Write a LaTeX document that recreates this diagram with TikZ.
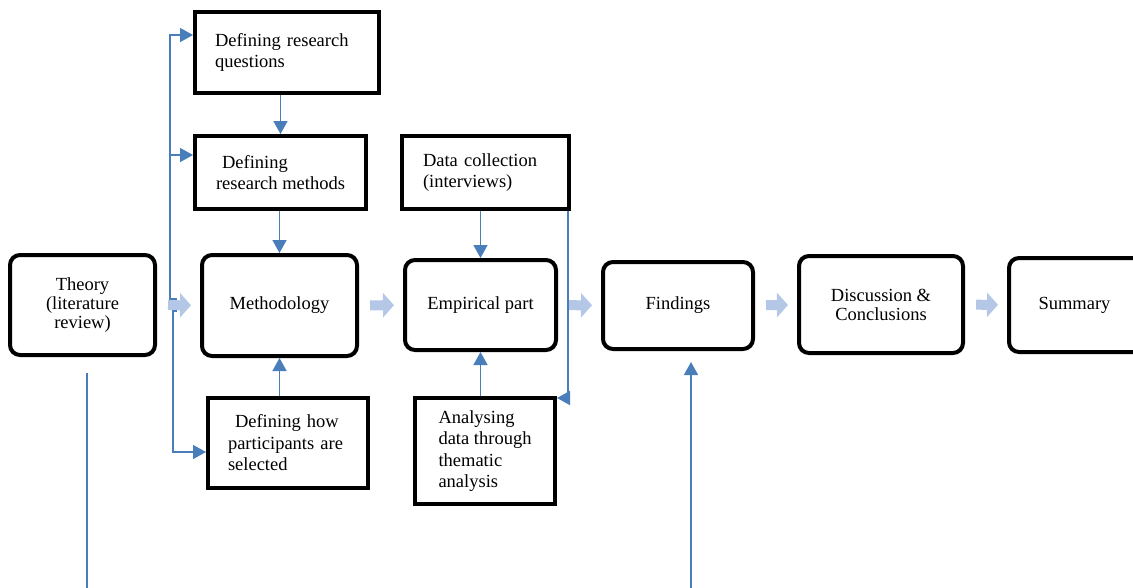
\documentclass[tikz,border=0pt]{standalone}
\usepackage{fontspec}
\setmainfont{Liberation Serif}
\usepackage{tikz}
\usetikzlibrary{arrows.meta,positioning,calc}
\usepackage{xcolor}
\definecolor{rqblue}{RGB}{74,126,187}
\definecolor{rqpale}{RGB}{180,199,231}
\tikzstyle{stage} = [rectangle, rounded corners=10pt, draw=black, line width=4pt, align=center, inner sep=0pt, font=\rmfamily\fontsize{18.5}{19}\selectfont]
\tikzstyle{task} = [rectangle, draw=black, line width=4pt, align=left, inner sep=0pt, font=\rmfamily\fontsize{18.5}{21.5}\selectfont]
\tikzstyle{fatarrow} = [line width=10pt, color=rqpale, -{Triangle[length=11pt,width=24pt]}, shorten <=11pt, shorten >=9pt]
\tikzstyle{link} = [line width=1.5pt, color=rqblue, -{Triangle[length=13pt,width=14pt]}]

\begin{document}
\begin{tikzpicture}[x=1pt, y=-1pt]
\useasboundingbox (0,0) rectangle (1133,587);
\clip (0,0) rectangle (1133,587);

% Main stages
\node (theory) [stage, minimum width=145pt, minimum height=100pt] at (82.5,305) {Theory\\(literature\\review)};
\node (meth) [stage, minimum width=155pt, minimum height=101pt] at (279.5,305.5) {Methodology};
\node (emp) [stage, minimum width=151pt, minimum height=90pt] at (480.5,305) {Empirical part};
\node (find) [stage, minimum width=150pt, minimum height=87pt] at (678,305.5) {Findings};
\node (disc) [stage, minimum width=164pt, minimum height=97pt] at (881,304.5) {Discussion \&\\Conclusions};
\node (summ) [stage, minimum width=156pt, minimum height=94pt, text width=150pt] at (1087,305) {\hspace*{-25pt}Summary};

% Tasks
\node (drq) [task, minimum width=184pt, minimum height=81pt, text width=144pt] at (287,52.5) {Defining research\\questions};
\node (drm) [task, minimum width=171pt, minimum height=73pt] at (280.5,172.5) {\hspace*{6pt}Defining\\research methods};
\node (dhp) [task, minimum width=160pt, minimum height=90pt, text width=120pt] at (288,443) {\hspace*{7pt}Defining how\\participants are\\selected};
\node (dc) [task, minimum width=167pt, minimum height=73pt, text width=125pt] at (485.5,172.5) {Data collection\\(interviews)};
\node (ana) [task, minimum width=140pt, minimum height=106pt] at (485,451) {Analysing\\data through\\thematic\\analysis};

% Flow
\draw[fatarrow] (theory) -- (meth);
\draw[fatarrow] (meth) -- (emp);
\draw[fatarrow] (emp) -- (find);
\draw[fatarrow] (find) -- (disc);
\draw[fatarrow] (disc) -- (summ);

% Connectors
\coordinate (jtop) at (177,299);
\coordinate (jbot) at (177,311);
\coordinate (bus) at (170,299);
\coordinate (drqin) at ([yshift=17.5pt]drq.west);
\coordinate (drmin) at ([yshift=17.5pt]drm.west);
\coordinate (dhpin) at ([yshift=-9pt]dhp.west);
\draw[link] (jtop) -- (bus) |- (drqin);
\draw[link] (bus |- drmin) -- (drmin);
\draw[link] (jbot) -- ++(-4,0) |- (dhpin);

\draw[link] (drq.south -| drm.north) -- (drm.north);
\draw[link] (drm.south -| meth.north) -- (meth.north);
\draw[link] (dhp.north -| meth.south) -- (meth.south);
\draw[link] (dc.south -| emp.north) -- (emp.north);
\draw[link] (ana.north -| emp.south) -- (emp.south);
\draw[link] ([xshift=-3pt]dc.south east) |- ([yshift=-2pt]ana.north east);

% Open ends
\coordinate (theoryout) at (87,373);
\coordinate (theoryend) at (87,595);
\coordinate (findin) at (691,362);
\coordinate (findstart) at (691,595);
\draw[link, -] (theoryout) -- (theoryend);
\draw[link] (findstart) -- (findin);
\end{tikzpicture}
\end{document}
